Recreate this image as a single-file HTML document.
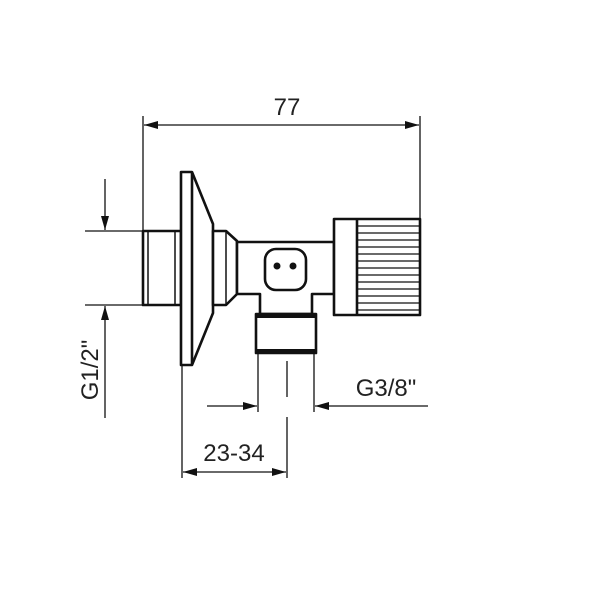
<!DOCTYPE html>
<html><head><style>body{margin:0;background:#fff}svg{display:block}</style></head><body>
<svg width="604" height="604" viewBox="0 0 604 604" xmlns="http://www.w3.org/2000/svg" font-family="Liberation Sans, sans-serif">
<rect width="604" height="604" fill="#fff"/>
<defs>
<marker id="a" viewBox="0 0 14 8" refX="14" refY="4" markerWidth="14" markerHeight="8" markerUnits="userSpaceOnUse" orient="auto-start-reverse"><path d="M0,0 L14,4 L0,8 Z" fill="#111"/></marker>
</defs>
<g stroke="#111" stroke-width="1.3" fill="none">
<line x1="143" y1="116" x2="143" y2="231"/>
<line x1="420" y1="116" x2="420" y2="219"/>
<line x1="144" y1="125" x2="419" y2="125" marker-end="url(#a)" marker-start="url(#a)"/>
<line x1="85" y1="231" x2="143" y2="231"/>
<line x1="85" y1="305" x2="143" y2="305"/>
<line x1="105" y1="179" x2="105" y2="230" marker-end="url(#a)"/>
<line x1="105" y1="418" x2="105" y2="306" marker-end="url(#a)"/>
<line x1="258" y1="353" x2="258" y2="412"/>
<line x1="314" y1="353" x2="314" y2="412"/>
<line x1="287" y1="361" x2="287" y2="397"/>
<line x1="287" y1="417" x2="287" y2="478"/>
<line x1="207" y1="406" x2="257" y2="406" marker-end="url(#a)"/>
<line x1="428" y1="406" x2="315" y2="406" marker-end="url(#a)"/>
<line x1="182" y1="365" x2="182" y2="478"/>
<line x1="183" y1="472" x2="286" y2="472" marker-end="url(#a)" marker-start="url(#a)"/>
</g>
<g stroke="#111" stroke-width="2.6" fill="#fff" stroke-linejoin="round">
<rect x="143" y="231" width="38" height="74"/>
<line x1="148" y1="231" x2="148" y2="305" stroke-width="1.5"/>
<line x1="175" y1="231" x2="175" y2="305" stroke-width="1.5"/>
<path d="M181,172 L192,172 L213,224 L213,313 L192,365 L181,365 Z"/>
<line x1="192" y1="172" x2="192" y2="365"/>
<path d="M213,231 L226,231 L237,241 L237,294 L226,305 L213,305 Z"/>
<line x1="226" y1="231" x2="226" y2="305" stroke-width="1.5"/>
<path d="M237,242 L334,242 L334,294 L312,294 L312,314 L260,314 L260,294 L237,294 Z"/>
<rect x="265" y="249" width="41" height="41" rx="11"/>
<rect x="256" y="314" width="60" height="39"/>
<line x1="256" y1="316" x2="316" y2="316" stroke-width="4"/>
<line x1="256" y1="351" x2="316" y2="351" stroke-width="4"/>
<rect x="334" y="219" width="86" height="96"/>
<line x1="357" y1="219" x2="357" y2="315"/>
</g>
<g stroke="#111" stroke-width="1.2">
<line x1="357" y1="226" x2="420" y2="226"/><line x1="357" y1="233" x2="420" y2="233"/>
<line x1="357" y1="240" x2="420" y2="240"/><line x1="357" y1="247" x2="420" y2="247"/>
<line x1="357" y1="254" x2="420" y2="254"/><line x1="357" y1="261" x2="420" y2="261"/>
<line x1="357" y1="268" x2="420" y2="268"/><line x1="357" y1="275" x2="420" y2="275"/>
<line x1="357" y1="282" x2="420" y2="282"/><line x1="357" y1="289" x2="420" y2="289"/>
<line x1="357" y1="296" x2="420" y2="296"/><line x1="357" y1="303" x2="420" y2="303"/>
<line x1="357" y1="310" x2="420" y2="310"/>
</g>
<circle cx="277" cy="266" r="3.5" fill="#111"/>
<circle cx="293" cy="266" r="3.5" fill="#111"/>
<g fill="#222" font-size="24">
<text x="287" y="115" text-anchor="middle">77</text>
<text x="386" y="396" text-anchor="middle">G3/8"</text>
<text x="234" y="461" text-anchor="middle">23-34</text>
<text transform="translate(98,370) rotate(-90)" text-anchor="middle">G1/2"</text>
</g>
</svg>
</body></html>
